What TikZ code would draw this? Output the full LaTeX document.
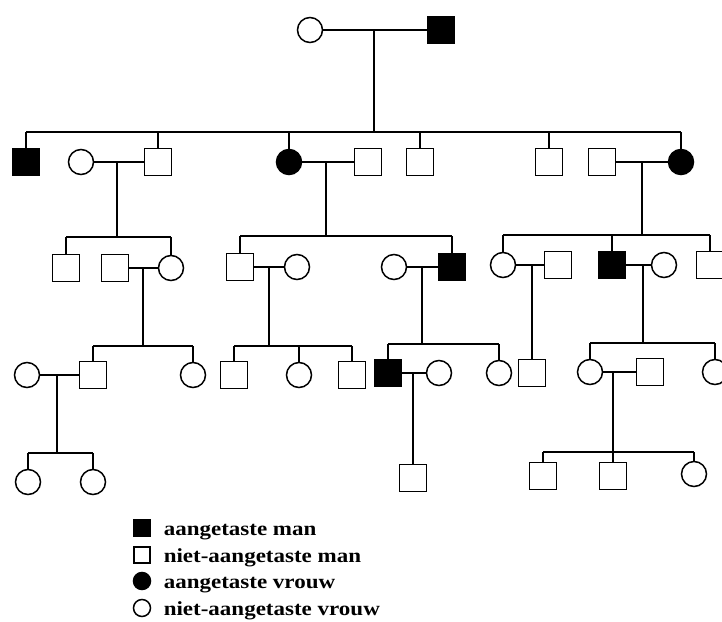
\documentclass[tikz,border=0pt]{standalone}
\usepackage{fontspec}
\newfontfamily\legfont[FakeStretch=1.15]{Liberation Serif}
\begin{document}
\begin{tikzpicture}[x=1pt,y=-1pt,line width=1.5pt,
  male/.style={draw,rectangle,minimum size=27pt,inner sep=0pt,fill=white},
  amale/.style={male,fill=black},
  fem/.style={draw,circle,minimum size=25pt,inner sep=0pt,fill=white},
  afem/.style={fem,fill=black},
  lmale/.style={draw,rectangle,minimum size=16pt,inner sep=0pt,fill=white},
  lamale/.style={lmale,fill=black},
  lfem/.style={draw,circle,minimum width=16pt,minimum height=17pt,inner sep=0pt,fill=white},
  lafem/.style={lfem,fill=black},
  legtext/.style={anchor=base west,inner sep=0pt,font=\legfont\bfseries\fontsize{20}{24}\selectfont}]
\clip (0,0) rectangle (722,621);
% Generation I
\node[fem] (i1) at (310,30) {};
\node[amale] (i2) at (441,30) {};
\coordinate (ci) at (374,30);
\coordinate (si) at (374,132);
\draw (i1) -- (i2);
\draw (ci) -- (si);
% Generation II
\node[amale] (a1) at (26,162) {};
\node[fem] (a2) at (81,162) {};
\node[male] (a3) at (158,162) {};
\node[afem] (a4) at (289,162) {};
\node[male] (a5) at (368,162) {};
\node[male] (a6) at (420,162) {};
\node[male] (a7) at (549,162) {};
\node[male] (a8) at (602,162) {};
\node[afem] (a9) at (681,162) {};
\draw (a1 |- si) -- (a9 |- si);
\foreach \n in {a1,a3,a4,a6,a7,a9} \draw (\n) -- (\n |- si);
\draw (a2) -- (a3);
\draw (a4) -- (a5);
\draw (a8) -- (a9);
\coordinate (cA) at (117,162); \coordinate (sA) at (117,237);
\coordinate (cB) at (326,162); \coordinate (sB) at (326,236);
\coordinate (cC) at (642,162); \coordinate (sC) at (642,235);
\draw (cA) -- (sA);
\draw (cB) -- (sB);
\draw (cC) -- (sC);
% Generation III
\node[male] (b1) at (66,268) {};
\node[male] (b2) at (115,268) {};
\node[fem] (b3) at (171,268) {};
\node[male] (b4) at (240,267) {};
\node[fem] (b5) at (297,267) {};
\node[fem] (b6) at (394,267) {};
\node[amale] (b7) at (452,267) {};
\node[fem] (b8) at (503,265) {};
\node[male] (b9) at (558,265) {};
\node[amale] (b10) at (612,265) {};
\node[fem] (b11) at (664,265) {};
\node[male] (b12) at (710,265) {};
\draw (b1 |- sA) -- (b3 |- sA);
\foreach \n in {b1,b3} \draw (\n) -- (\n |- sA);
\draw (b4 |- sB) -- (b7 |- sB);
\foreach \n in {b4,b7} \draw (\n) -- (\n |- sB);
\draw (b8 |- sC) -- (b12 |- sC);
\foreach \n in {b8,b10,b12} \draw (\n) -- (\n |- sC);
\draw (b2) -- (b3);
\draw (b4) -- (b5);
\draw (b6) -- (b7);
\draw (b8) -- (b9);
\draw (b10) -- (b11);
\coordinate (cA1) at (143,268); \coordinate (sA1) at (143,346);
\coordinate (cB1) at (269,267); \coordinate (sB1) at (269,346);
\coordinate (cB2) at (422,267); \coordinate (sB2) at (422,344);
\coordinate (cC1) at (532,265);
\coordinate (cC2) at (643,265); \coordinate (sC2) at (643,343);
\draw (cA1) -- (sA1);
\draw (cB1) -- (sB1);
\draw (cB2) -- (sB2);
\draw (cC2) -- (sC2);
% Generation IV
\node[fem] (c1) at (27,375) {};
\node[male] (c2) at (93,375) {};
\node[fem] (c3) at (193,375) {};
\node[male] (c4) at (234,375) {};
\node[fem] (c5) at (299,375) {};
\node[male] (c6) at (352,375) {};
\node[amale] (c7) at (388,373) {};
\node[fem] (c8) at (439,373) {};
\node[fem] (c9) at (499,373) {};
\node[male] (c10) at (532,373) {};
\node[fem] (c11) at (590,372) {};
\node[male] (c12) at (650,372) {};
\node[fem] (c13) at (715,372) {};
\draw (c2 |- sA1) -- (c3 |- sA1);
\foreach \n in {c2,c3} \draw (\n) -- (\n |- sA1);
\draw (c4 |- sB1) -- (c6 |- sB1);
\foreach \n in {c4,c5,c6} \draw (\n) -- (\n |- sB1);
\draw (c7 |- sB2) -- (c9 |- sB2);
\foreach \n in {c7,c9} \draw (\n) -- (\n |- sB2);
\draw (cC1) -- (c10);
\draw (c11 |- sC2) -- (c13 |- sC2);
\foreach \n in {c11,c13} \draw (\n) -- (\n |- sC2);
\draw (c1) -- (c2);
\draw (c7) -- (c8);
\draw (c11) -- (c12);
\coordinate (cA2) at (57,375); \coordinate (sA2) at (57,453);
\coordinate (cB3) at (413,373);
\coordinate (cC3) at (613,372); \coordinate (sC3) at (613,452);
\draw (cA2) -- (sA2);
\draw (cC3) -- (sC3);
% Generation V
\node[fem] (d1) at (28,482) {};
\node[fem] (d2) at (93,482) {};
\node[male] (d3) at (413,478) {};
\node[male] (d4) at (543,476) {};
\node[male] (d5) at (613,476) {};
\node[fem] (d6) at (694,474) {};
\draw (d1 |- sA2) -- (d2 |- sA2);
\foreach \n in {d1,d2} \draw (\n) -- (\n |- sA2);
\draw (cB3) -- (d3);
\draw (d4 |- sC3) -- (d6 |- sC3);
\foreach \n in {d4,d5,d6} \draw (\n) -- (\n |- sC3);
% Legend
\node[lamale] (l1) at (142,528) {};
\node[lmale] (l2) at (142,555) {};
\node[lafem] (l3) at (142,581) {};
\node[lfem] (l4) at (142,608) {};
\node[legtext] (t1) at (163,535) {aangetaste man};
\node[legtext] (t2) at (163,562) {niet-aangetaste man};
\node[legtext] (t3) at (163,588) {aangetaste vrouw};
\node[legtext] (t4) at (163,615) {niet-aangetaste vrouw};
\end{tikzpicture}
\end{document}
